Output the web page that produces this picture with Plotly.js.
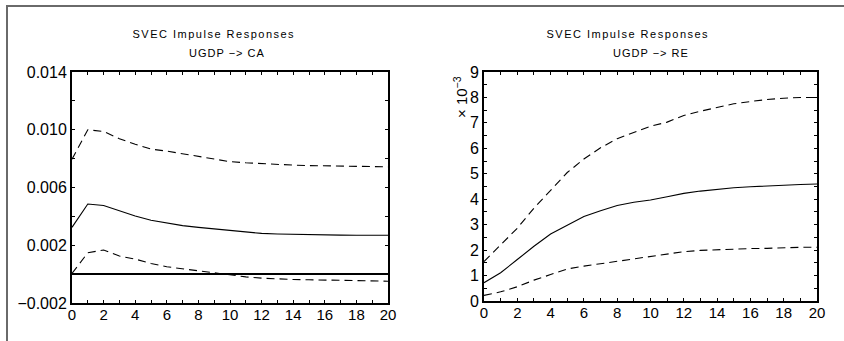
<!DOCTYPE html>
<html>
<head>
<meta charset="utf-8">
<script src="https://cdn.plot.ly/plotly-3.0.1.min.js"></script>
<style>
html,body{margin:0;padding:0;background:#fff;}
#frame{position:absolute;left:6px;top:5px;width:840px;height:340px;border-top:2px solid #6a6a6a;border-left:2px solid #6a6a6a;box-sizing:border-box;}
#chart{position:absolute;left:0;top:0;width:844px;height:341px;}
</style>
</head>
<body>
<div id="frame"></div>
<div id="chart"></div>
<script>
// horizon (periods)
const horizon = [0,1,2,3,4,5,6,7,8,9,10,11,12,13,14,15,16,17,18,19,20];

// UGDP -> CA
const caIrf   = [0.00324,0.00486,0.00475,0.00438,0.00403,0.00373,0.00352,0.00336,0.00324,0.00313,0.00300,0.00289,0.00282,0.00278,0.00275,0.00273,0.00271,0.00270,0.00269,0.00269,0.00269];
const caUpper = [0.00796,0.01000,0.00988,0.00938,0.00900,0.00866,0.00852,0.00833,0.00815,0.00799,0.00779,0.00771,0.00764,0.00759,0.00755,0.00752,0.00750,0.00748,0.00745,0.00745,0.00743];
const caLower = [0.00005,0.00148,0.00167,0.00125,0.00104,0.00074,0.00051,0.00037,0.00019,0.00005,-0.00006,-0.00019,-0.00028,-0.00035,-0.00037,-0.00039,-0.00042,-0.00044,-0.00046,-0.00046,-0.00049];

// UGDP -> RE (in units of 10^-3)
const reIrf   = [0.72,1.11,1.63,2.15,2.63,2.99,3.32,3.55,3.75,3.88,3.97,4.10,4.23,4.32,4.39,4.45,4.49,4.53,4.56,4.58,4.60];
const reUpper = [1.55,2.21,2.86,3.65,4.37,5.05,5.58,6.02,6.38,6.64,6.87,7.03,7.29,7.46,7.62,7.75,7.84,7.92,7.97,8.00,8.00];
const reLower = [0.22,0.36,0.56,0.82,1.04,1.26,1.37,1.47,1.56,1.65,1.74,1.85,1.94,1.99,2.02,2.04,2.06,2.07,2.10,2.11,2.11];

// labelled ticks
const xTickVals = [0,2,4,6,8,10,12,14,16,18,20];
const xTickText = ["0","2","4","6","8","10","12","14","16","18","20"];
const caTickVals = [-0.002,0.002,0.006,0.010,0.014];
const caTickText = ["\u22120.002","0.002","0.006","0.010","0.014"];
const reTickVals = [0,1,2,3,4,5,6,7,8,9];
const reTickText = ["0","1","2","3","4","5","6","7","8","9"];

const W = 844, H = 341;
const solid = {color:'#000', width:1.1};
const dashed = {color:'#000', width:1.1, dash:'8px,5px'};

const traces = [
  {x:horizon, y:caUpper, xaxis:'x', yaxis:'y', mode:'lines', line:dashed},
  {x:horizon, y:caIrf,   xaxis:'x', yaxis:'y', mode:'lines', line:solid},
  {x:horizon, y:caLower, xaxis:'x', yaxis:'y', mode:'lines', line:dashed},
  {x:horizon, y:reUpper, xaxis:'x2', yaxis:'y2', mode:'lines', line:dashed},
  {x:horizon, y:reIrf,   xaxis:'x2', yaxis:'y2', mode:'lines', line:solid},
  {x:horizon, y:reLower, xaxis:'x2', yaxis:'y2', mode:'lines', line:dashed}
];

const fam = 'Liberation Sans, Arial, sans-serif';
function axisBase(extra){
  return Object.assign({
    showline:true, linecolor:'#000', linewidth:2, mirror:'ticks',
    ticks:'inside', ticklen:3, tickwidth:1, tickcolor:'#000',
    showgrid:false, zeroline:false, tickmode:'array', fixedrange:true
  }, extra);
}
const xFont = {family:fam, size:15, color:'#000'};
const yFont = {family:fam, size:16, color:'#000'};
const minorX = {dtick:1, tick0:0, ticks:'inside', ticklen:3, tickwidth:1, tickcolor:'#000', showgrid:false};

const titleFont = {family:fam, size:11, color:'#000'};
const layout = {
  width:W, height:H,
  margin:{l:0,r:0,t:0,b:0},
  paper_bgcolor:'rgba(0,0,0,0)', plot_bgcolor:'#fff',
  showlegend:false,
  xaxis: axisBase({domain:[72/W,388/W], range:[0,20], tickvals:xTickVals, ticktext:xTickText, anchor:'y', tickfont:xFont, ticklabelstandoff:-3, minor:minorX}),
  yaxis: axisBase({domain:[1-303/H,1-72/H], range:[-0.002,0.014], tickvals:caTickVals, ticktext:caTickText, anchor:'x', tickfont:yFont,
                   minor:{dtick:0.002, tick0:0, ticks:'inside', ticklen:3, tickwidth:1, tickcolor:'#000', showgrid:false},
                   zeroline:true, zerolinecolor:'#000', zerolinewidth:2}),
  xaxis2: axisBase({domain:[484/W,817/W], range:[0,20], tickvals:xTickVals, ticktext:xTickText, anchor:'y2', tickfont:xFont, ticklabelstandoff:-3, minor:minorX}),
  yaxis2: axisBase({domain:[1-301/H,1-72/H], range:[0,9], tickvals:reTickVals, ticktext:reTickText, anchor:'x2', tickfont:yFont,
                   minor:{dtick:0.5, tick0:0, ticks:'inside', ticklen:3, tickwidth:1, tickcolor:'#000', showgrid:false}}),
  annotations:[
    {text:'SVEC Impulse Responses', xref:'paper', yref:'paper', x:214/W, y:1-34/H, xanchor:'center', yanchor:'middle', showarrow:false, font:titleFont},
    {text:'UGDP \u2212> CA', xref:'paper', yref:'paper', x:227/W, y:1-53/H, xanchor:'center', yanchor:'middle', showarrow:false, font:titleFont},
    {text:'SVEC Impulse Responses', xref:'paper', yref:'paper', x:628/W, y:1-34/H, xanchor:'center', yanchor:'middle', showarrow:false, font:titleFont},
    {text:'UGDP \u2212> RE', xref:'paper', yref:'paper', x:651/W, y:1-53/H, xanchor:'center', yanchor:'middle', showarrow:false, font:titleFont},
    {text:'\u00d7 10<sup>\u22123</sup>', xref:'paper', yref:'paper', x:461/W, y:1-97/H, xanchor:'center', yanchor:'middle', textangle:-90, showarrow:false, font:{family:fam, size:15, color:'#000'}}
  ]
};

Plotly.newPlot('chart', traces, layout, {staticPlot:true, displayModeBar:false}).then(function(){
  document.querySelectorAll('.annotation-text').forEach(function(t,i){
    if(i<4){ t.style.letterSpacing = (i%2===0) ? '1.5px' : '1px'; }
  });
});
</script>
</body>
</html>
